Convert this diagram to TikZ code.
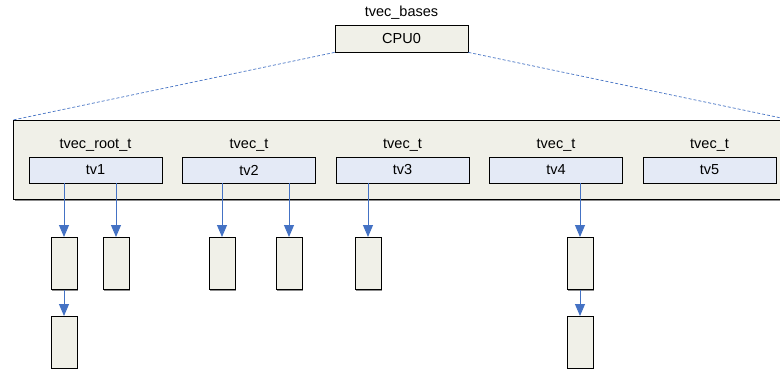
\documentclass[tikz,border=0pt]{standalone}
\usepackage{fontspec}
\setmainfont{Liberation Sans}
\usetikzlibrary{shadows,arrows.meta}
\definecolor{boxfill}{HTML}{F0F0E8}
\definecolor{tvfill}{HTML}{E4EAF6}
\definecolor{linkblue}{HTML}{4472C4}
\tikzset{
  shade box/.style={drop shadow={shadow xshift=1.3pt, shadow yshift=-1.3pt, fill=black!45, opacity=1}},
  cpubox/.style={draw=black, line width=0.8pt, fill=boxfill, shade box, minimum width=133pt, minimum height=27pt, inner sep=0pt, font=\fontsize{14.5}{16}\selectfont},
  tvbox/.style={draw=black, line width=0.8pt, fill=tvfill, minimum width=133pt, minimum height=26pt, inner sep=0pt, font=\fontsize{14.5}{16}\selectfont},
  cell/.style={draw=black, line width=0.8pt, fill=boxfill, shade box, minimum width=26pt, minimum height=52pt, inner sep=0pt},
  lbl/.style={anchor=base, inner sep=0pt, font=\fontsize{14.5}{16}\selectfont},
  arr/.style={draw=linkblue, line width=0.9pt, -{Triangle[length=12pt, width=10pt]}},
  link/.style={draw=linkblue, line width=0.7pt, dash pattern=on 3pt off 2pt},
}
\begin{document}
\begin{tikzpicture}[x=1pt, y=-1pt]
\useasboundingbox[fill=white] (0,0) rectangle (780,369);

% per-CPU base
\node[cpubox] (cpu) at (401.5,38.5) {CPU0};
\node[lbl] (cpulbl) at (401.5,17) {tvec\_bases};

% container holding the five vectors
\node[draw=black, line width=0.8pt, fill=boxfill, shade box, minimum width=777pt, minimum height=79pt, inner sep=0pt, anchor=north west] (bases) at (13,120) {};

\draw[link] (cpu.south west) -- (bases.north west);
\draw[link] (cpu.south east) -- (bases.north east);

% vectors
\node[tvbox] (tv1) at (95.5,170) {tv1};
\node[tvbox] (tv2) at (249,170) {tv2};
\node[tvbox] (tv3) at (402.5,170) {tv3};
\node[tvbox] (tv4) at (556,170) {tv4};
\node[tvbox] (tv5) at (709.5,170) {tv5};

\node[lbl] (l1) at (95.5,148) {tvec\_root\_t};
\node[lbl] (l2) at (249,148) {tvec\_t};
\node[lbl] (l3) at (402.5,148) {tvec\_t};
\node[lbl] (l4) at (556,148) {tvec\_t};
\node[lbl] (l5) at (709.5,148) {tvec\_t};

% timer list entries
\node[cell, anchor=north] (a1) at (64,237) {};
\node[cell, anchor=north] (a2) at (64,316) {};
\node[cell, anchor=north] (b1) at (116,237) {};
\node[cell, anchor=north] (c1) at (222,237) {};
\node[cell, anchor=north] (d1) at (289,237) {};
\node[cell, anchor=north] (e1) at (368,237) {};
\node[cell, anchor=north] (f1) at (580,237) {};
\node[cell, anchor=north] (f2) at (580,316) {};

\draw[arr] (a1.north |- tv1.south) -- (a1.north);
\draw[arr] (b1.north |- tv1.south) -- (b1.north);
\draw[arr] (c1.north |- tv2.south) -- (c1.north);
\draw[arr] (d1.north |- tv2.south) -- (d1.north);
\draw[arr] (e1.north |- tv3.south) -- (e1.north);
\draw[arr] (f1.north |- tv4.south) -- (f1.north);
\draw[arr] (a1.south) -- (a2.north);
\draw[arr] (f1.south) -- (f2.north);
\end{tikzpicture}
\end{document}
